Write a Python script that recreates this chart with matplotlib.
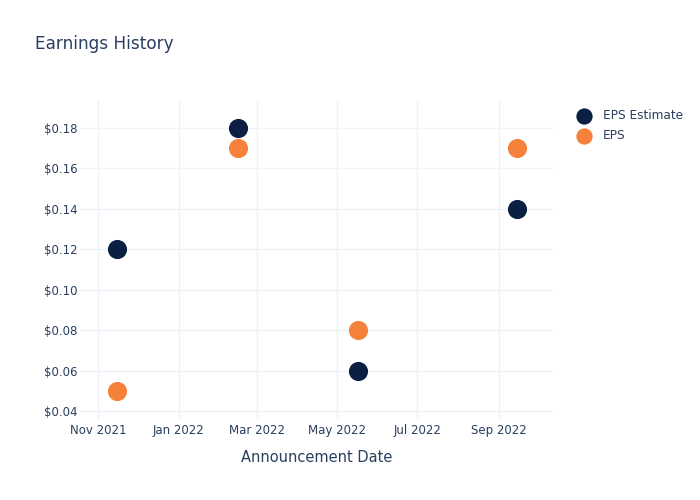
import matplotlib
matplotlib.use("Agg")
import matplotlib.pyplot as plt
import matplotlib.dates as mdates
import numpy as np
import datetime as dt

dates = ["2021-11-15", "2022-02-15", "2022-05-17", "2022-09-15"]
eps_estimate = [0.12, 0.18, 0.06, 0.14]
eps_actual = [0.05, 0.17, 0.08, 0.17]
series_names = ["EPS Estimate", "EPS"]

x = [dt.datetime.strptime(d, "%Y-%m-%d") for d in dates]

TEXT = "#2a3f5f"
GRID = "#EEF2F9"
NAVY = "#0b1f42"
ORANGE = "#f5813a"

plt.rcParams['font.family'] = ['DejaVu Sans']
fig = plt.figure(figsize=(7, 5), dpi=100)
ax = fig.add_axes([80/700, 1-420/500, (553-80)/700, (420-100)/500])

ax.scatter(x, eps_estimate, s=190, color=NAVY, label=series_names[0], zorder=3, linewidths=0)
ax.scatter(x, eps_actual, s=190, color=ORANGE, label=series_names[1], zorder=3, linewidths=0)

ax.set_xlim(dt.datetime(2021, 10, 18), dt.datetime(2022, 10, 12))
ax.set_ylim(0.0355, 0.1939)
ax.xaxis.set_major_locator(mdates.MonthLocator(bymonth=[1, 3, 5, 7, 9, 11]))
ax.xaxis.set_major_formatter(mdates.DateFormatter("%b %Y"))
ax.set_yticks(np.arange(0.04, 0.181, 0.02))
ax.yaxis.set_major_formatter(matplotlib.ticker.FuncFormatter(lambda v, p: f"${v:.2f}"))

for s in ax.spines.values():
    s.set_visible(False)
ax.grid(True, color=GRID, linewidth=1)
ax.set_axisbelow(True)
ax.tick_params(length=0, labelsize=8.5, colors=TEXT)
ax.tick_params(axis="y", pad=2)
ax.tick_params(axis="x", pad=3)

ax.set_xlabel("Announcement Date", fontsize=10.5, color=TEXT, labelpad=9)
fig.text(35/700, 1-44/500, "Earnings History", fontsize=12.2, color=TEXT, va="center", ha="left")

leg = ax.legend(loc="upper left", bbox_to_anchor=(563/700, 1-101/500), bbox_transform=fig.transFigure,
                frameon=False, fontsize=8.7, labelcolor=TEXT, handletextpad=0.6,
                labelspacing=0.55, markerscale=0.85, borderpad=0.2)

fig.savefig("out.png", dpi=100)
